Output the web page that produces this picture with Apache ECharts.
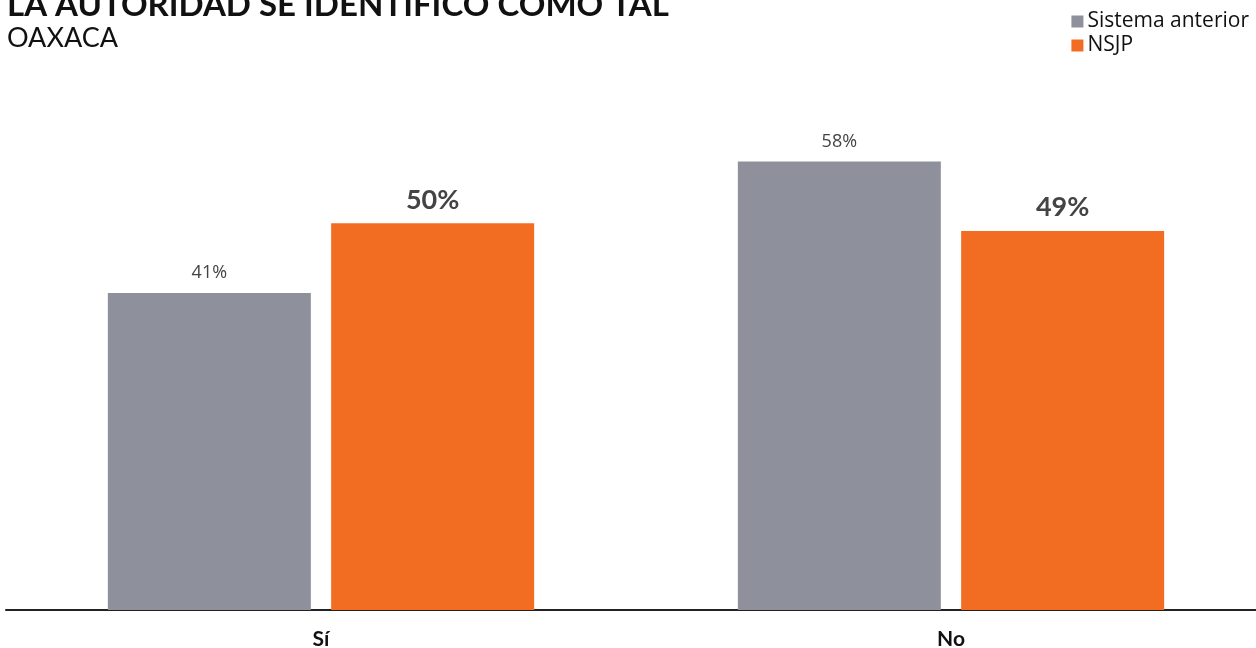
<!DOCTYPE html>
<html><head><meta charset="utf-8">
<script src="https://cdn.jsdelivr.net/npm/echarts@6/dist/echarts.min.js"></script>
<style>html,body{margin:0;padding:0;background:#fff}#c{width:1256px;height:648px}</style>
</head><body><div id="c"></div>
<script>
const categories = ['Sí', 'No'];
const seriesNames = ['Sistema anterior', 'NSJP'];
const anterior = [41, 58];
const nsjp = [50, 49];
const titleText = 'LA AUTORIDAD SE IDENTIFICÓ COMO TAL';
const subtitleText = 'OAXACA';

const chart = echarts.init(document.getElementById('c'));
chart.setOption({
  animation: false,
  title: {
    text: titleText, subtext: subtitleText, left: 2, top: -16, itemGap: 3,
    textStyle: { fontFamily: 'Lato', fontWeight: 'bold', fontSize: 33, color: '#111' },
    subtextStyle: { fontFamily: 'Lato', fontSize: 27, color: '#111' }
  },
  legend: {
    right: 2, top: 6, orient: 'vertical', itemWidth: 12, itemHeight: 12, itemGap: 3,
    icon: 'rect', data: seriesNames,
    textStyle: { fontFamily: 'Open Sans', fontSize: 21, color: '#111', padding: [0, 0, 0, -1] }
  },
  grid: { left: 6, width: 1260, top: 146, bottom: 38, containLabel: false, outerBoundsMode: 'none' },
  xAxis: {
    type: 'category', data: categories,
    axisLine: { lineStyle: { color: '#222', width: 2 } },
    axisTick: { show: false },
    axisLabel: { fontFamily: 'Lato', fontWeight: 'bold', fontSize: 21, color: '#111', margin: 19 }
  },
  yAxis: { type: 'value', min: 0, max: 60, show: false, splitLine: { show: false } },
  series: [
    { name: seriesNames[0], type: 'bar', data: anterior, barWidth: 203, barGap: '10%',
      itemStyle: { color: '#8E919C' },
      label: { show: true, position: 'top', distance: 11, formatter: '{c}%',
        fontFamily: 'Open Sans', fontSize: 18, color: '#444' } },
    { name: seriesNames[1], type: 'bar', data: nsjp, barWidth: 203,
      itemStyle: { color: '#F26C22' },
      label: { show: true, position: 'top', distance: 10, formatter: '{c}%',
        fontFamily: 'Lato', fontWeight: 'bold', fontSize: 27, color: '#444' } }
  ]
});
</script></body></html>
